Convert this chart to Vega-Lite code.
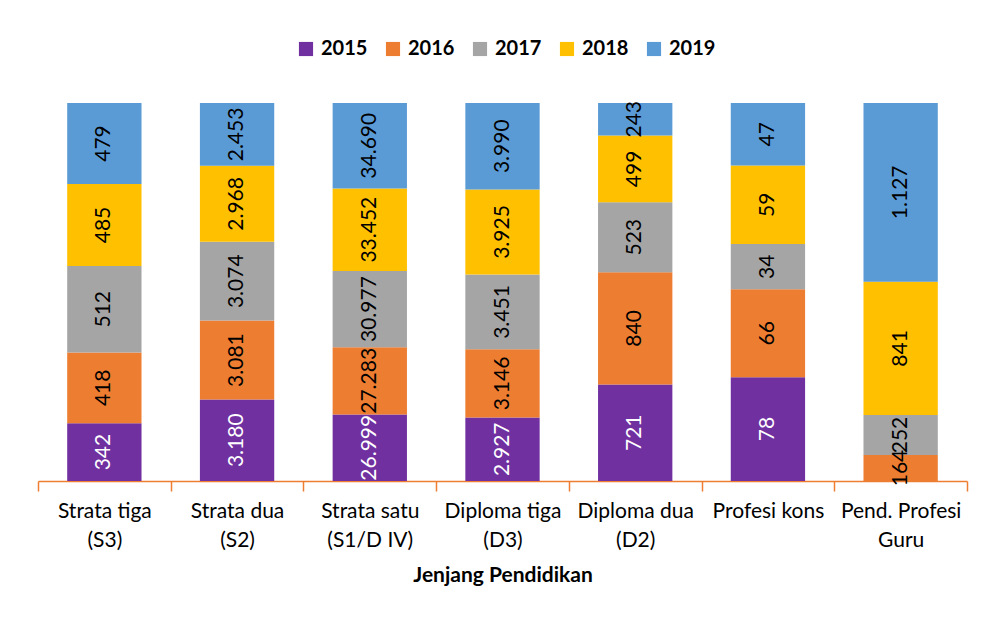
{
  "$schema": "https://vega.github.io/schema/vega-lite/v6.json",
  "width": 929,
  "height": 378,
  "autosize": {"type": "none"},
  "padding": {"left": 38, "top": 103, "right": 16, "bottom": 138},
  "background": "white",
  "config": {
    "locale": {"number": {"decimal": ",", "thousands": ".", "grouping": [3], "currency": ["Rp", ""]}},
    "view": {"stroke": null},
    "font": "Lato"
  },
  "data": {
    "values": [
      {"cat": "Strata tiga|(S3)", "year": "2015", "v": 342},
      {"cat": "Strata tiga|(S3)", "year": "2016", "v": 418},
      {"cat": "Strata tiga|(S3)", "year": "2017", "v": 512},
      {"cat": "Strata tiga|(S3)", "year": "2018", "v": 485},
      {"cat": "Strata tiga|(S3)", "year": "2019", "v": 479},
      {"cat": "Strata dua|(S2)", "year": "2015", "v": 3180},
      {"cat": "Strata dua|(S2)", "year": "2016", "v": 3081},
      {"cat": "Strata dua|(S2)", "year": "2017", "v": 3074},
      {"cat": "Strata dua|(S2)", "year": "2018", "v": 2968},
      {"cat": "Strata dua|(S2)", "year": "2019", "v": 2453},
      {"cat": "Strata satu|(S1/D IV)", "year": "2015", "v": 26999},
      {"cat": "Strata satu|(S1/D IV)", "year": "2016", "v": 27283},
      {"cat": "Strata satu|(S1/D IV)", "year": "2017", "v": 30977},
      {"cat": "Strata satu|(S1/D IV)", "year": "2018", "v": 33452},
      {"cat": "Strata satu|(S1/D IV)", "year": "2019", "v": 34690},
      {"cat": "Diploma tiga|(D3)", "year": "2015", "v": 2927},
      {"cat": "Diploma tiga|(D3)", "year": "2016", "v": 3146},
      {"cat": "Diploma tiga|(D3)", "year": "2017", "v": 3451},
      {"cat": "Diploma tiga|(D3)", "year": "2018", "v": 3925},
      {"cat": "Diploma tiga|(D3)", "year": "2019", "v": 3990},
      {"cat": "Diploma dua|(D2)", "year": "2015", "v": 721},
      {"cat": "Diploma dua|(D2)", "year": "2016", "v": 840},
      {"cat": "Diploma dua|(D2)", "year": "2017", "v": 523},
      {"cat": "Diploma dua|(D2)", "year": "2018", "v": 499},
      {"cat": "Diploma dua|(D2)", "year": "2019", "v": 243},
      {"cat": "Profesi kons", "year": "2015", "v": 78},
      {"cat": "Profesi kons", "year": "2016", "v": 66},
      {"cat": "Profesi kons", "year": "2017", "v": 34},
      {"cat": "Profesi kons", "year": "2018", "v": 59},
      {"cat": "Profesi kons", "year": "2019", "v": 47},
      {"cat": "Pend. Profesi|Guru", "year": "2016", "v": 164},
      {"cat": "Pend. Profesi|Guru", "year": "2017", "v": 252},
      {"cat": "Pend. Profesi|Guru", "year": "2018", "v": 841},
      {"cat": "Pend. Profesi|Guru", "year": "2019", "v": 1127}
    ]
  },
  "transform": [
    {"stack": "v", "groupby": ["cat"], "sort": [{"field": "year", "order": "ascending"}], "as": ["v0", "v1"], "offset": "normalize"},
    {"calculate": "(datum.v0 + datum.v1) / 2", "as": "mid"}
  ],
  "encoding": {
    "x": {
      "field": "cat", "type": "nominal", "sort": null,
      "scale": {"paddingInner": 0, "paddingOuter": 0},
      "axis": {
        "title": "Jenjang Pendidikan",
        "titleFont": "Lato", "titleFontSize": 21, "titleFontWeight": "bold", "titleColor": "#000000", "titlePadding": 14,
        "labelExpr": "split(datum.label, '|')",
        "labelAngle": 0, "labelFontSize": 21, "labelLineHeight": 29, "labelColor": "#000000", "labelPadding": 9, "labelLimit": 0,
        "domainColor": "#ED7D31", "domainWidth": 1.5, "tickColor": "#ED7D31", "tickWidth": 1.5, "tickSize": 10, "tickBand": "extent"
      }
    }
  },
  "layer": [
    {
      "mark": {"type": "bar", "width": {"band": 0.56}},
      "encoding": {
        "y": {"field": "v1", "type": "quantitative", "scale": {"domain": [0, 1]}, "axis": null},
        "y2": {"field": "v0"},
        "color": {
          "field": "year", "type": "nominal",
          "scale": {"domain": ["2015", "2016", "2017", "2018", "2019"], "range": ["#7030A0", "#ED7D31", "#A5A5A5", "#FFC000", "#5B9BD5"]},
          "legend": {
            "title": null, "orient": "none", "direction": "horizontal", "legendX": 258, "legendY": -64,
            "symbolType": "square", "symbolSize": 200, "symbolStrokeWidth": 0,
            "labelFontSize": 20, "labelFontWeight": "bold", "labelColor": "#000000", "columnPadding": 15, "labelOffset": 5
          }
        }
      }
    },
    {
      "mark": {"type": "text", "angle": 270, "align": "center", "baseline": "middle", "fontSize": 21},
      "encoding": {
        "y": {"field": "mid", "type": "quantitative", "scale": {"domain": [0, 1]}},
        "text": {"field": "v", "type": "quantitative", "format": ",d"},
        "color": {"condition": {"test": "datum.year === '2015'", "value": "#ffffff"}, "value": "#000000"}
      }
    }
  ]
}
